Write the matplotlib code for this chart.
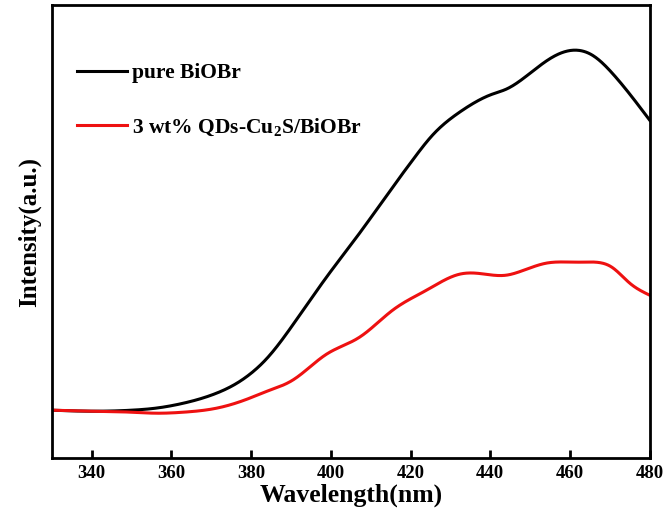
import matplotlib
matplotlib.use("Agg")
import matplotlib.pyplot as plt
import numpy as np

# Values (intensity in arbitrary units)
wl_pure = [330, 340, 350, 356, 363, 371.3, 376, 380, 384, 390.4, 398.9, 407.2, 415.5,
           420.5, 425.5, 432.3, 440.5, 444, 450, 455.6, 461, 465.6, 470.6, 475.6, 480]
int_pure = [48, 47, 48, 50, 55, 65, 74, 85, 100, 133, 181, 225, 271,
            298, 323, 346, 364, 369, 385, 401, 408, 403, 385, 361, 338]

wl_qds = [330, 340, 350, 356, 363, 371.3, 379.6, 384, 390.4, 398.9, 407.2,
          415.5, 424, 432.3, 436.5, 444, 447, 454, 462, 466.5, 470.5, 475, 480]
int_qds = [48, 47, 46, 45, 46, 50, 60, 67, 78, 104, 121,
           148, 168, 184, 185, 183, 186, 195, 196, 196, 191, 175, 163]

labels = ["pure BiOBr", r"3 wt% QDs-Cu$_\mathbf{2}$S/BiOBr"]
xticks = [340, 360, 380, 400, 420, 440, 460, 480]

plt.rcParams['font.family'] = ['Liberation Serif', 'DejaVu Serif']
plt.rcParams['font.weight'] = 'bold'
plt.rcParams['mathtext.fontset'] = 'custom'
plt.rcParams['mathtext.rm'] = 'Liberation Serif:bold'
plt.rcParams['mathtext.bf'] = 'Liberation Serif:bold'
plt.rcParams['mathtext.it'] = 'Liberation Serif:bold'


def smooth(x, y):
    # natural cubic spline through the read points
    x = np.asarray(x, float)
    y = np.asarray(y, float)
    n = len(x)
    h = np.diff(x)
    A = np.zeros((n, n))
    r = np.zeros(n)
    A[0, 0] = A[-1, -1] = 1
    for i in range(1, n - 1):
        A[i, i - 1] = h[i - 1]
        A[i, i] = 2 * (h[i - 1] + h[i])
        A[i, i + 1] = h[i]
        r[i] = 6 * ((y[i + 1] - y[i]) / h[i] - (y[i] - y[i - 1]) / h[i - 1])
    M = np.linalg.solve(A, r)
    xs = np.linspace(x[0], x[-1], 800)
    idx = np.clip(np.searchsorted(x, xs) - 1, 0, n - 2)
    x0, x1 = x[idx], x[idx + 1]
    hh = x1 - x0
    a = (x1 - xs) / hh
    b = (xs - x0) / hh
    ys = (a * y[idx] + b * y[idx + 1]
          + ((a**3 - a) * M[idx] + (b**3 - b) * M[idx + 1]) * hh**2 / 6)
    return xs, ys


fig = plt.figure(figsize=(6.65, 5.16), dpi=100)
ax = fig.add_axes([0.078, 0.112, 0.899, 0.878])

xp, yp = smooth(wl_pure, int_pure)
xq, yq = smooth(wl_qds, int_qds)
ax.plot(xp, yp, color='black', linewidth=2.2, label=labels[0])
ax.plot(xq, yq, color='#ee1111', linewidth=2.2, label=labels[1])

ax.set_xlim(330, 480)
ax.set_ylim(0, 453)
ax.set_xticks(xticks)
ax.set_yticks([])
ax.tick_params(axis='x', direction='in', length=6, width=2, labelsize=13.5, pad=5)
for lab in ax.get_xticklabels():
    lab.set_fontweight('bold')
for sp in ax.spines.values():
    sp.set_linewidth(2)

ax.set_xlabel("Wavelength(nm)", fontsize=18.5, fontweight='bold', labelpad=1)
ax.set_ylabel("Intensity(a.u.)", fontsize=18, fontweight='bold', labelpad=8)

ax.legend(loc='upper left', frameon=False, fontsize=15.5, labelspacing=1.55,
          handlelength=2.3, handletextpad=0.25, bbox_to_anchor=(0.01, 0.915))

fig.savefig("out.png", dpi=100)
